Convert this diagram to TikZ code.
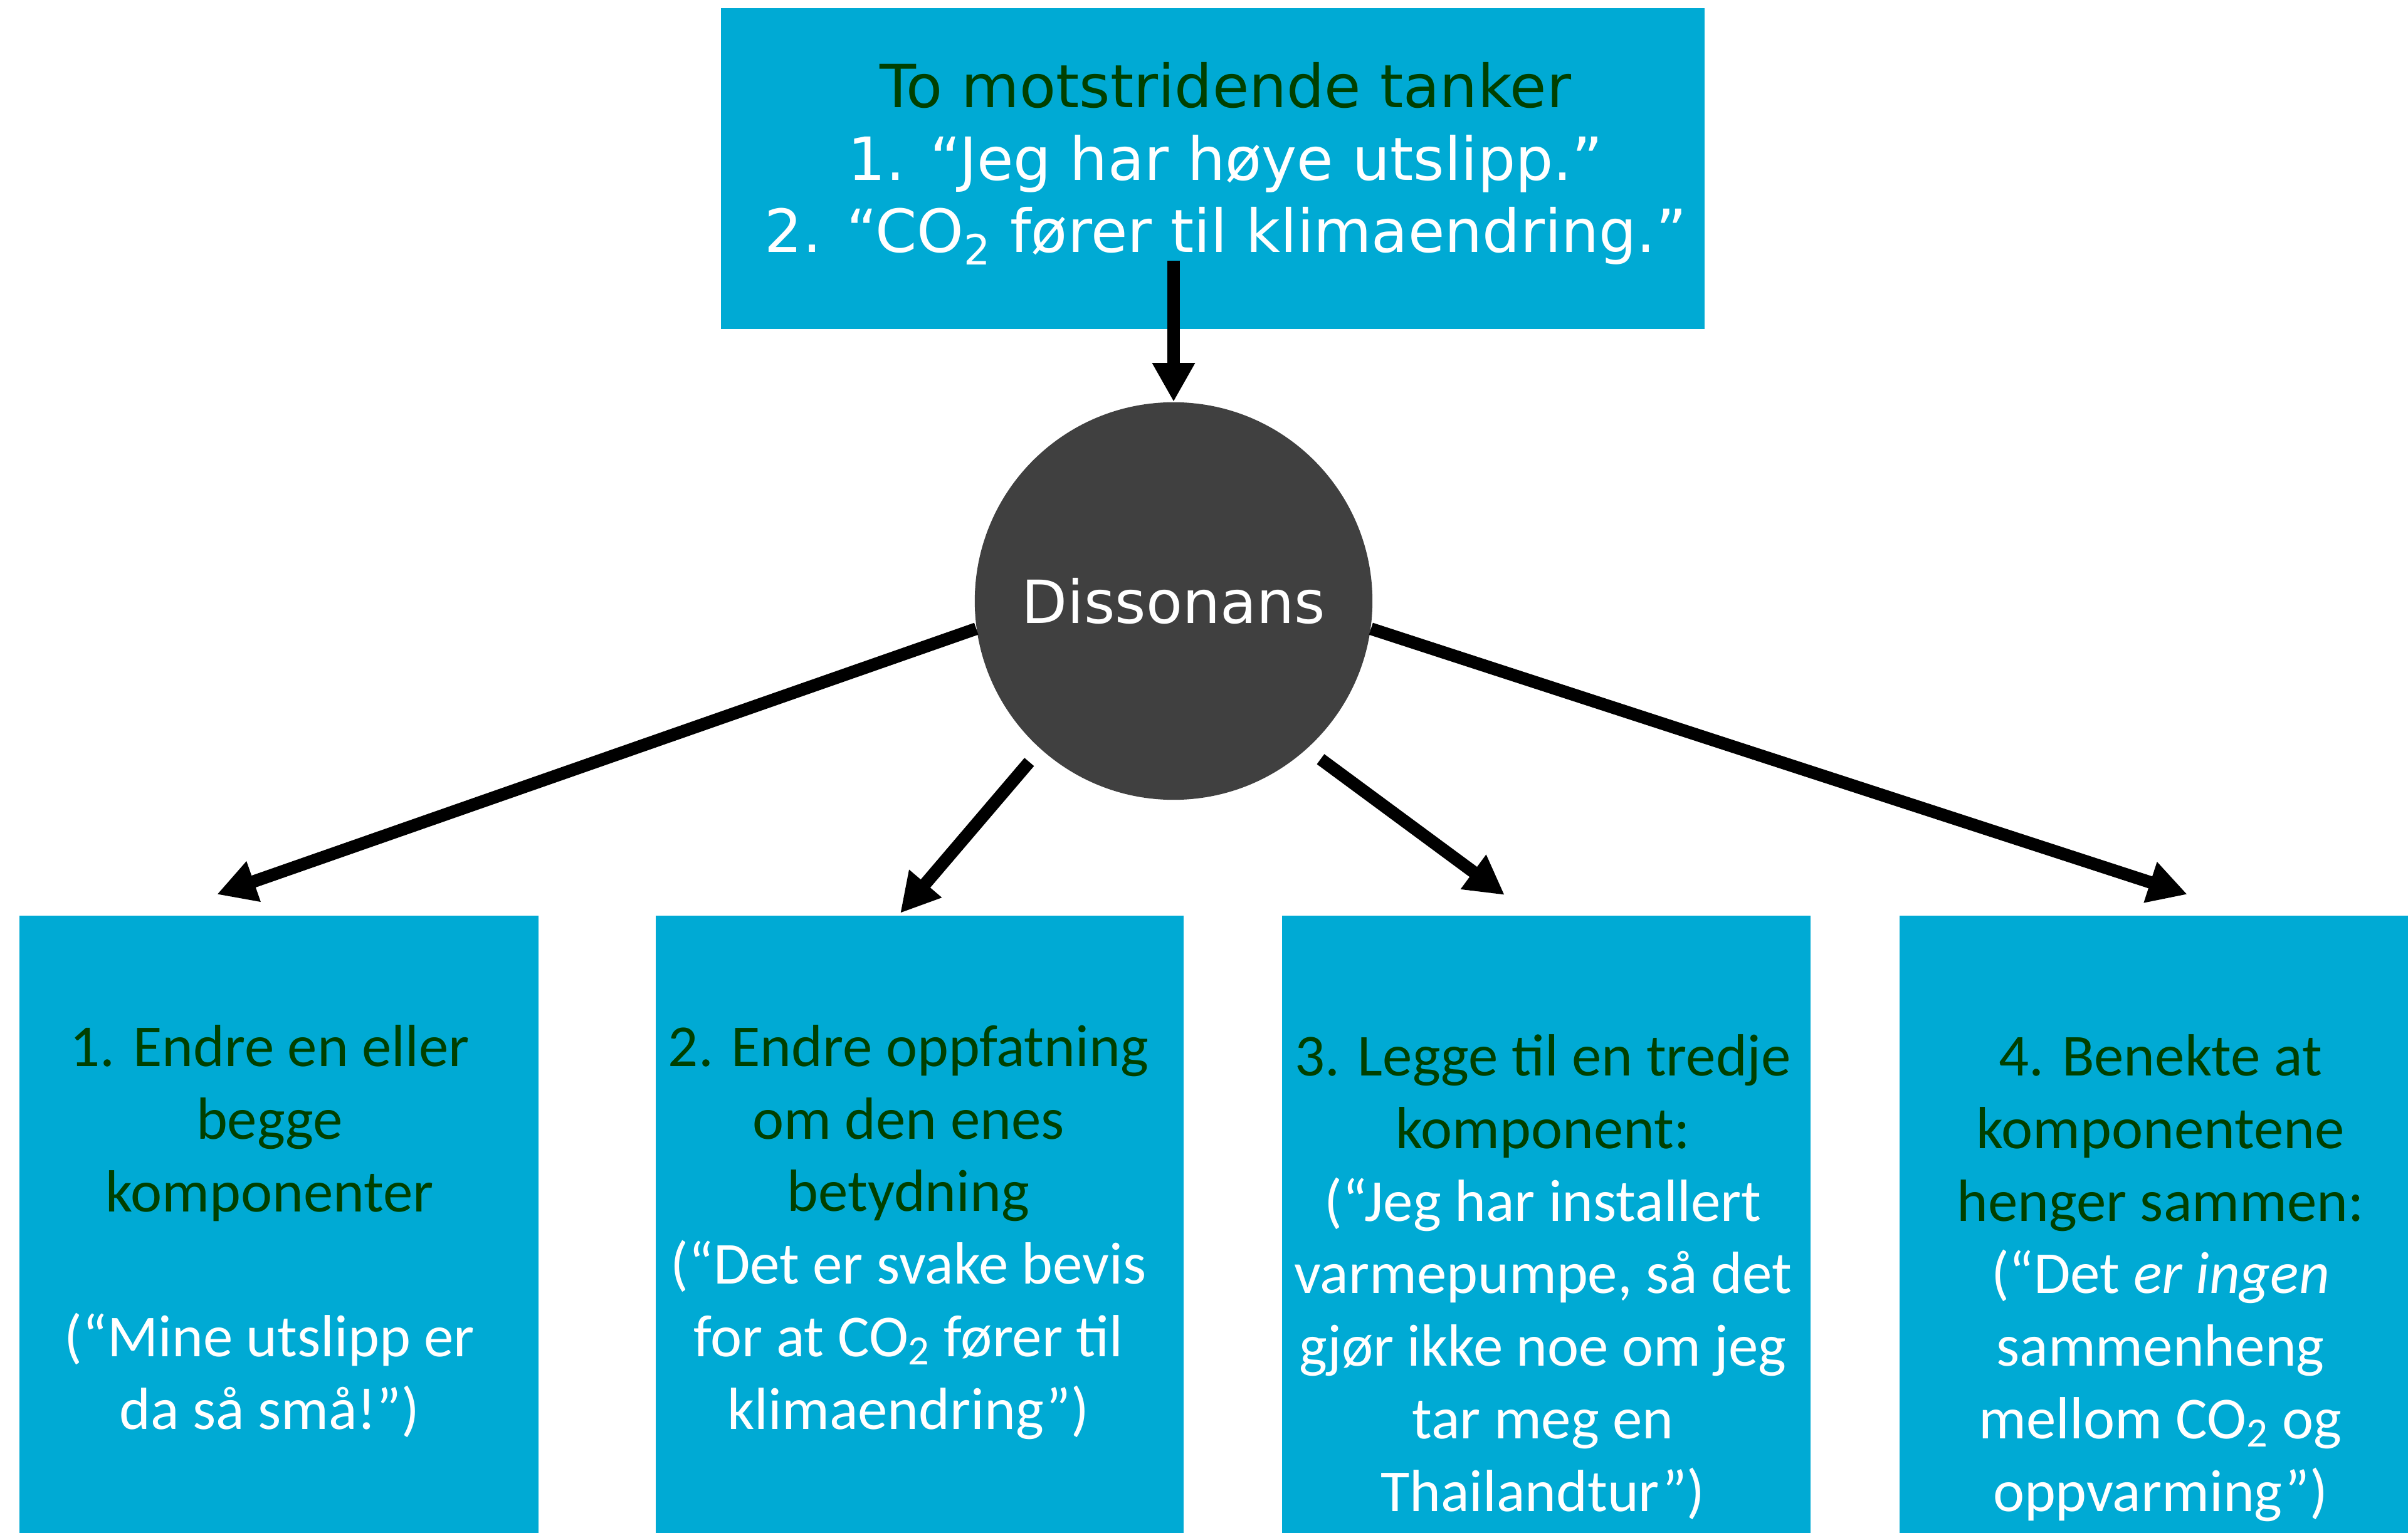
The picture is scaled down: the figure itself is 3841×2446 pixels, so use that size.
\documentclass[tikz,border=0pt]{standalone}
\usepackage{fontspec}
\setmainfont{Carlito}
\newfontfamily\dejavu{DejaVu Sans}
\usetikzlibrary{arrows.meta,positioning}
\definecolor{boxblue}{RGB}{0,170,212}
\definecolor{darkgreen}{RGB}{0,64,0}
\definecolor{circgray}{RGB}{64,64,64}
\newcommand{\bigfont}{\fontsize{27pt}{32.9pt}\selectfont}
\newcommand{\quoteline}[1]{\textcolor{white}{#1}}
\tikzset{
  bluebox/.style={rectangle, fill=boxblue, anchor=north west, inner sep=0pt, minimum height=9.86cm},
  boxtext/.style={align=center, anchor=base, inner sep=0pt, text=darkgreen},
  arr/.style={line width=0.2cm, -{Triangle[length=0.62cm,width=0.64cm]}},
}

\begin{document}
\begin{tikzpicture}[x=0.01cm, y=-0.01cm, font=\bigfont]
				\useasboundingbox (0,0) rectangle (3841,2446);
				% Nodes
				\node (top) [bluebox, minimum width=15.68cm, minimum height=5.12cm] at (1149,12) {};
				\node (toptext) [boxtext, font=\dejavu\bigfont] at (1955,403) {To motstridende tanker\\\quoteline{1. “Jeg har høye utslipp.”}\\\quoteline{2. “CO\textsubscript{2} fører til klimaendring.”}};
				\node (diss) [circle, fill=circgray, minimum size=6.34cm, inner sep=0pt, text=white, font=\dejavu\bigfont] at (1872,959) {Dissonans};
				\node (box1) [bluebox, minimum width=8.28cm] at (30,1460) {};
				\node (box2) [bluebox, minimum width=8.42cm, right=1.85cm of box1] {};
				\node (box3) [bluebox, minimum width=8.43cm, right=1.55cm of box2] {};
				\node (box4) [bluebox, minimum width=8.18cm, right=1.40cm of box3] {};
				\node (txt1) [boxtext] at (430,2280) {1. Endre en eller\\begge\\komponenter\\[1.155cm]\quoteline{(“Mine utslipp er}\\\quoteline{da så små!”)}};
				\node (txt2) [boxtext] at (1449,2280) {2. Endre oppfatning\\om den enes\\betydning\\\quoteline{(“Det er svake bevis}\\\quoteline{for at CO\textsubscript{2} fører til}\\\quoteline{klimaendring”)}};
				\node (txt3) [boxtext] at (2461,2411) {3. Legge til en tredje\\komponent:\\\quoteline{(“Jeg har installert}\\\quoteline{varmepumpe, så det}\\\quoteline{gjør ikke noe om jeg}\\\quoteline{tar meg en}\\\quoteline{Thailandtur”)}};
				\node (txt4) [boxtext] at (3446,2411) {4. Benekte at\\komponentene\\henger sammen:\\\quoteline{(“Det \textit{er ingen}}\\\quoteline{sammenheng}\\\quoteline{mellom CO\textsubscript{2} og}\\\quoteline{oppvarming”)}};

				% Arrows
				\coordinate (src) at (1872,416);
				\coordinate (tip1) at (346,1427);
				\coordinate (tip2) at (1436,1457);
				\coordinate (tip3) at (2400,1428);
				\coordinate (tip4) at (3489,1427);
				\draw[arr] (src) -- (diss);
				\draw[arr] (diss.188) -- (tip1);
				\draw[arr, shorten <=0.27cm] (diss.228.5) -- (tip2);
				\draw[arr, shorten <=0.27cm] (diss.-48.5) -- (tip3);
				\draw[arr] (diss.-8) -- (tip4);
			\end{tikzpicture}
\end{document}
